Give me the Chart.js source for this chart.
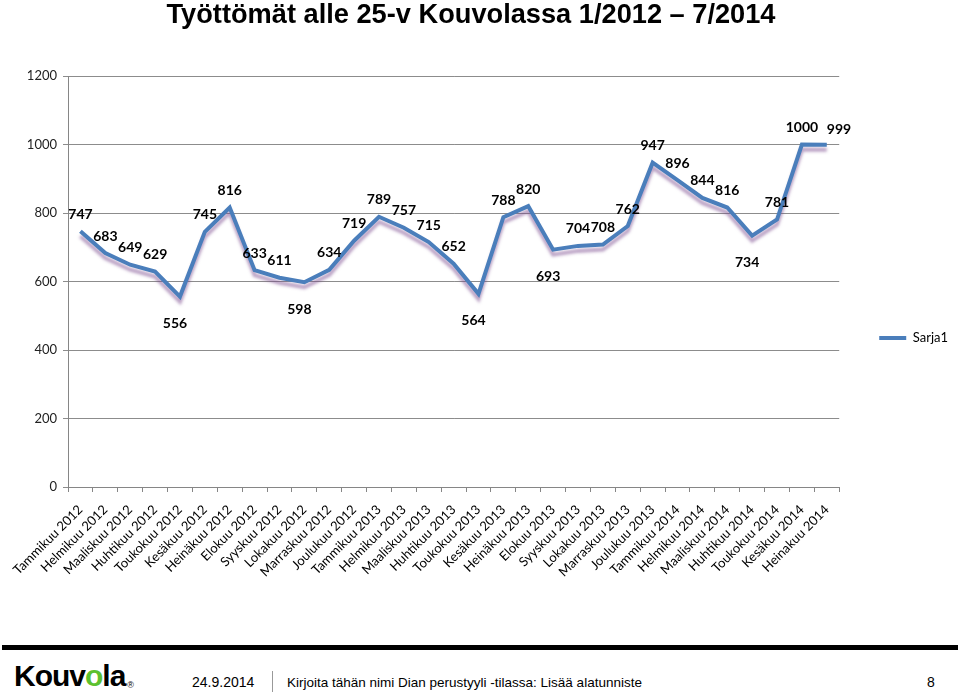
<!DOCTYPE html>
<html>
<head>
<meta charset="utf-8">
<title>Työttömät alle 25-v Kouvolassa</title>
<script src="https://cdn.jsdelivr.net/npm/chart.js@4/dist/chart.umd.min.js"></script>
<style>
  html, body { margin: 0; padding: 0; background: #fff; }
  #wrap { position: relative; width: 960px; height: 693px; overflow: hidden; }
  #c { position: absolute; left: 0; top: 0; }
  .bar { position: absolute; left: 2px; top: 645px; width: 956px; height: 5px; background: #000; }
  .logo { position: absolute; left: 14px; top: 659px; font: bold 30px "Liberation Sans", Arial, sans-serif; letter-spacing: -1px; color: #000; }
  .logo .o { color: #5cc12f; }
  .logo sup { font: normal 9px "Liberation Sans", Arial, sans-serif; vertical-align: -2px; margin-left: 2px; }
  .ft { position: absolute; top: 674px; font: 14px "Liberation Sans", Arial, sans-serif; color: #000; }
  .sep { position: absolute; left: 272px; top: 671px; width: 1px; height: 21px; background: #999; }
</style>
</head>
<body>
<div id="wrap">
  <canvas id="c" width="960" height="640"></canvas>
  <div class="bar"></div>
  <div class="logo">Kouv<span class="o">o</span>la<sup>®</sup></div>
  <div class="ft" style="left:192px">24.9.2014</div>
  <div class="sep"></div>
  <div class="ft" style="left:287px;font-size:13.5px;top:675px">Kirjoita tähän nimi Dian perustyyli -tilassa: Lisää alatunniste</div>
  <div class="ft" style="left:927px">8</div>
</div>
<script>
/* ---------- data ---------- */
const chartTitle = 'Työttömät alle 25-v Kouvolassa 1/2012 – 7/2014';
const months = ['Tammikuu','Helmikuu','Maaliskuu','Huhtikuu','Toukokuu','Kesäkuu','Heinäkuu',
                'Elokuu','Syyskuu','Lokakuu','Marraskuu','Joulukuu'];
const categories = [
  ...months.map(m => m + ' 2012'),
  ...months.map(m => m + ' 2013'),
  'Tammikuu 2014','Helmikuu 2014','Maaliskuu 2014','Huhtikuu 2014',
  'Toukokuu 2014','Kesäkuu 2014','Heinakuu 2014'
];
const seriesName = 'Sarja1';
const unemployed = [747, 683, 649, 629, 556, 745, 816, 633, 611, 598, 634, 719,
                    789, 757, 715, 652, 564, 788, 820, 693, 704, 708, 762, 947,
                    896, 844, 816, 734, 781, 1000, 999];
const yMin = 0, yMax = 1200, yStep = 200;

/* ---------- plugins ---------- */
// narrow bold title (no Arial Narrow here, so squeeze with maxWidth)
const narrowTitle = {
  id: 'narrowTitle',
  afterDraw(chart) {
    const ctx = chart.ctx;
    ctx.save();
    ctx.font = 'bold 28px "Liberation Sans", Arial, sans-serif';
    ctx.fillStyle = '#000';
    ctx.textAlign = 'center';
    ctx.textBaseline = 'alphabetic';
    ctx.fillText(chartTitle, 471, 23, 609);
    ctx.restore();
  }
};

// soft shadow under the line, like the office 3D effect
const lineShadow = {
  id: 'lineShadow',
  beforeDatasetDraw(chart) {
    const ctx = chart.ctx;
    ctx.save();
    ctx.shadowColor = 'rgba(120,70,140,0.5)';
    ctx.shadowOffsetX = 0;
    ctx.shadowOffsetY = 5;
    ctx.shadowBlur = 3;
  },
  afterDatasetDraw(chart) { chart.ctx.restore(); }
};

// value labels: above the point, below it for inner local minima
const valueLabels = {
  id: 'valueLabels',
  afterDatasetsDraw(chart) {
    const ctx = chart.ctx;
    const meta = chart.getDatasetMeta(0);
    const vals = chart.data.datasets[0].data;
    const last = vals.length - 1;
    ctx.save();
    ctx.font = 'bold 14px Lato, "Open Sans", sans-serif';
    ctx.fillStyle = '#000';
    ctx.textBaseline = 'middle';
    meta.data.forEach((pt, i) => {
      const v = vals[i];
      const low = i > 0 && i < last && v < vals[i-1] && v < vals[i+1];
      if (low) {
        ctx.textAlign = 'center';
        ctx.fillText(String(v), pt.x - 5, pt.y + 27);
      } else if (i === last) {
        ctx.textAlign = 'left';
        ctx.fillText(String(v), pt.x, pt.y - 15);
      } else {
        ctx.textAlign = 'center';
        ctx.fillText(String(v), pt.x, pt.y - 17);
      }
    });
    ctx.restore();
  }
};

// move the legend to where the reference has it
const legendSpot = {
  id: 'legendSpot',
  afterLayout(chart) {
    const l = chart.legend;
    if (!l) return;
    l.top -= 20; l.bottom -= 20;
    l.left += 36; l.right += 36;
  }
};

/* ---------- chart ---------- */
new Chart(document.getElementById('c'), {
  type: 'line',
  data: {
    labels: categories,
    datasets: [{
      label: seriesName,
      data: unemployed,
      borderColor: '#4A7EBB',
      backgroundColor: '#4A7EBB',
      borderWidth: 4,
      pointRadius: 0,
      pointHoverRadius: 0,
      pointStyle: 'line',
      tension: 0,
      borderJoinStyle: 'miter'
    }]
  },
  options: {
    responsive: false,
    animation: false,
    maintainAspectRatio: false,
    layout: { padding: { left: 0, right: 38, top: 76, bottom: 0 } },
    plugins: {
      title: { display: false },
      legend: {
        position: 'right',
        labels: {
          usePointStyle: true,
          pointStyle: 'line',
          pointStyleWidth: 27,
          boxHeight: 12,
          padding: 4,
          color: '#000',
          font: { family: 'Lato, "Open Sans", sans-serif', size: 13 }
        }
      },
      tooltip: { enabled: false }
    },
    scales: {
      x: {
        offset: true,
        grid: { offset: true, drawOnChartArea: false, drawTicks: true, tickLength: 5, color: '#868686' },
        border: { color: '#868686', width: 1 },
        ticks: {
          autoSkip: false, maxRotation: 45, minRotation: 45, padding: 10,
          color: '#000',
          font: { family: 'Lato, "Open Sans", sans-serif', size: 13 }
        },
        afterFit(scale) { scale.height = 153; }
      },
      y: {
        min: yMin, max: yMax,
        grid: { color: '#8c8c8c', tickLength: 5, drawTicks: true },
        border: { color: '#868686', width: 1 },
        ticks: {
          stepSize: yStep, padding: 6,
          color: '#222',
          font: { family: 'Lato, "Open Sans", sans-serif', size: 13 },
          callback: v => String(v)
        },
        afterFit(scale) { scale.width = 68; }
      }
    }
  },
  plugins: [lineShadow, valueLabels, legendSpot, narrowTitle]
});
</script>
</body>
</html>
